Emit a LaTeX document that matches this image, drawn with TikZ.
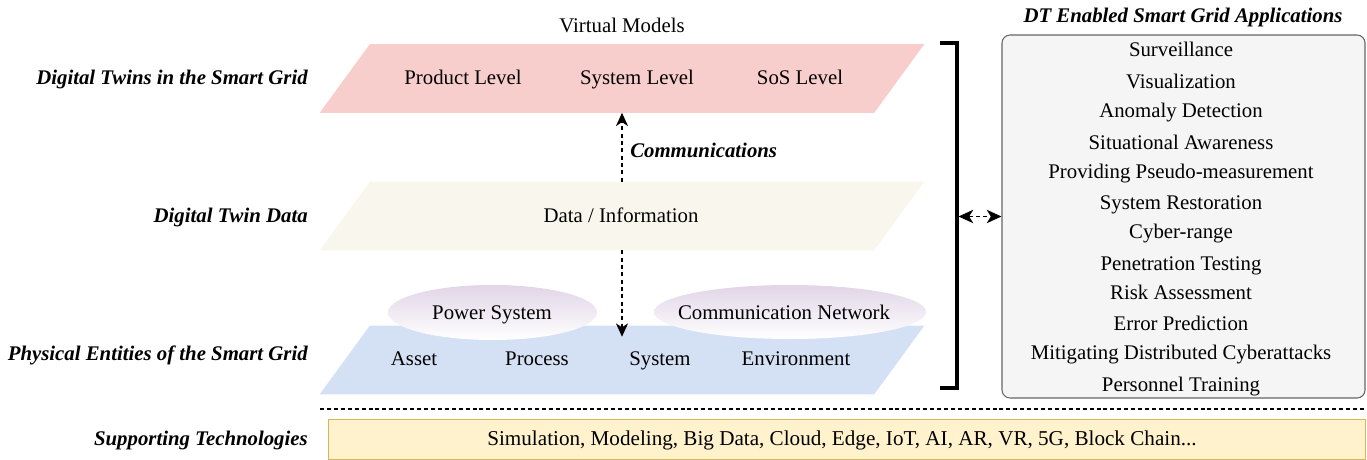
\documentclass[tikz,border=0pt]{standalone}
\usepackage{fontspec}
\setmainfont{Liberation Serif}
\usetikzlibrary{shapes.geometric,arrows.meta}
\definecolor{pinkL}{HTML}{F8CECC}
\definecolor{beigeL}{HTML}{F9F7ED}
\definecolor{blueL}{HTML}{D4E1F5}
\definecolor{purpleL}{HTML}{E1D5E7}
\definecolor{grayF}{HTML}{F5F5F5}
\definecolor{grayD}{HTML}{666666}
\definecolor{yelF}{HTML}{FFF2CC}
\definecolor{yelD}{HTML}{D6B656}
\begin{document}
\begin{tikzpicture}[x=0.75pt,y=-0.75pt,
  every node/.style={font=\fontsize{15.6}{18}\selectfont},
  txt/.style={inner sep=0pt, text height=10.4pt, text depth=0pt},
  lbl/.style={txt, anchor=east, font=\fontsize{15.6}{18}\selectfont\bfseries\itshape},
  layer/.style={minimum width=453pt, minimum height=51pt, inner sep=0pt},
  darr/.style={dash pattern=on 3pt off 2.5pt, line width=1.1pt, -{Stealth[length=10pt,width=9pt,inset=3pt]}},
  ddarr/.style={dash pattern=on 3pt off 2.5pt, line width=1.2pt, {Stealth[length=11pt,width=10pt,inset=3pt]}-{Stealth[length=11pt,width=10pt,inset=3pt]}},
  oval/.style={ellipse, inner sep=0pt, top color=purpleL, bottom color=white, draw=none},
  appitem/.style={inner sep=0pt, anchor=base}]
\useasboundingbox (0,0) rectangle (1367,460);

% layer frames
\node[layer] (vm) at (622,78.5) {};
\node[layer] (dt) at (622,216) {};
\node[layer] (pe) at (622,360) {};
\fill[pinkL] ([xshift=37.5pt]vm.north west) -- (vm.north east) -- ([xshift=-37.5pt]vm.south east) -- (vm.south west) -- cycle;
\fill[beigeL] ([xshift=37.5pt]dt.north west) -- (dt.north east) -- ([xshift=-37.5pt]dt.south east) -- (dt.south west) -- cycle;
\fill[blueL] ([xshift=37.5pt]pe.north west) -- (pe.north east) -- ([xshift=-37.5pt]pe.south east) -- (pe.south west) -- cycle;

% ellipses
\node[oval, minimum width=156.75pt, minimum height=41.25pt] (ps) at (492.5,312.5) {};
\node[oval, minimum width=204pt, minimum height=40.5pt] (cn) at (790,312) {};
\node[txt] (pst) at (492,313) {Power System};
\node[txt] (cnt) at (784,313) {Communication Network};

% texts in layers
\node[txt] (vmt) at (622,26) {Virtual Models};
\node[txt] (pl) at (463,78) {Product Level};
\node[txt] (sl) at (637,78) {System Level};
\node[txt] (sosl) at (800,78) {SoS Level};
\node[txt] (di) at (621,216) {Data / Information};
\node[txt] (as) at (414,359) {Asset};
\node[txt] (pr) at (537,359) {Process};
\node[txt] (sy) at (660,359) {System};
\node[txt] (en) at (796,359) {Environment};

% left labels
\node[lbl] (l1) at (308,78) {Digital Twins in the Smart Grid};
\node[lbl] (l2) at (308,216) {Digital Twin Data};
\node[lbl] (l3) at (308,354) {Physical Entities of the Smart Grid};
\node[lbl] (l4) at (308,439) {Supporting Technologies};

% communications arrows
\draw[darr] (dt.north) -- (vm.south);
\draw[darr] (dt.south) -- ([yshift=-8.25pt]pe.north);
\node[txt, anchor=west, font=\fontsize{15.6}{18}\selectfont\bfseries\itshape] (com) at (630,151) {Communications};

% bracket
\draw[line width=2.8pt] (940,43) -- (957,43) -- (957,388) -- (940,388);
\coordinate (brk) at (958.5,216.5);

% applications box
\node[txt] (apt) at (1183,16) {\bfseries\itshape DT Enabled Smart Grid Applications};
\node[draw=grayD, fill=grayF, line width=0.8pt, rounded corners=6pt, minimum width=272.25pt, minimum height=272.25pt, inner sep=0pt] (apps) at (1183.5,216.5) {};
\foreach \yy/\itemtext [count=\i] in {50/Surveillance, 81.7/Visualization, 110.7/Anomaly Detection, 142.3/Situational Awareness, 171.7/Providing Pseudo-measurement, 202.3/System Restoration, 231.3/Cyber-range, 263.3/Penetration Testing, 292.7/Risk Assessment, 323.3/Error Prediction, 352.7/Mitigating Distributed Cyberattacks, 384/Personnel Training}
  \node[appitem] (app\i) at (1181,\yy+7) {\itemtext};

\draw[ddarr] (brk) -- (apps.west);

% separator
\coordinate (sepL) at (320,409);
\coordinate (sepR) at (1365,409);
\draw[dash pattern=on 3pt off 2.2pt, line width=1.1pt] (sepL) -- (sepR);

% supporting technologies
\node[draw=yelD, fill=yelF, line width=0.75pt, minimum width=777.75pt, minimum height=30pt, inner sep=0pt] (st) at (846.5,439) {};
\node[txt, font=\fontsize{15.85}{18}\selectfont] (stt) at (842,439) {Simulation, Modeling, Big Data, Cloud, Edge, IoT, AI, AR, VR, 5G, Block Chain...};
\end{tikzpicture}
\end{document}
